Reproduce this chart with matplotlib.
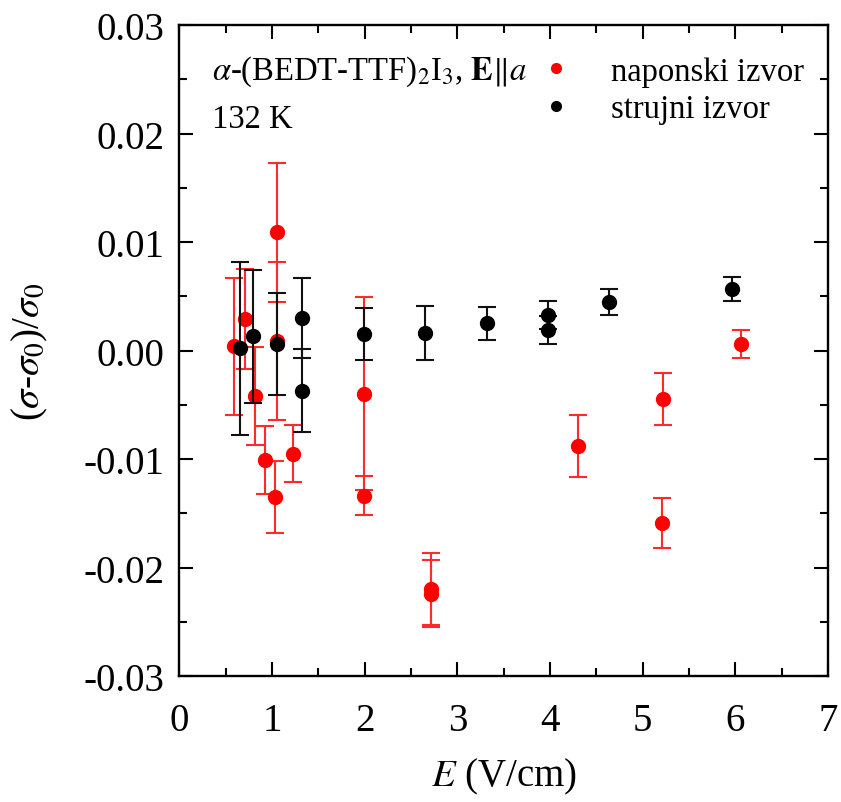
import matplotlib
matplotlib.use("Agg")
import matplotlib.pyplot as plt
from matplotlib.lines import Line2D
from matplotlib.ticker import MultipleLocator, FormatStrFormatter

# ---------- data ----------
red_x = [0.59, 0.71, 0.81, 0.92, 1.03, 1.05, 1.05, 1.23, 1.99, 1.99,
         2.71, 2.71, 4.30, 5.22, 5.21, 6.06]
red_y = [0.0004, 0.0029, -0.0042, -0.0101, -0.0135, 0.0109, 0.0009, -0.0095,
         -0.0040, -0.0134, -0.0220, -0.0224, -0.0088, -0.0045, -0.0159, 0.0006]
red_err = [0.0063, 0.0046, 0.0045, 0.0031, 0.0033, 0.0064, 0.0073, 0.0026,
           0.0089, 0.0018, 0.0033, 0.0031, 0.0029, 0.0024, 0.0023, 0.0013]

black_x = [0.655, 0.79, 1.05, 1.32, 1.32, 1.99, 2.655, 3.32, 3.98, 3.98, 4.64, 5.96]
black_y = [0.0002, 0.0013, 0.0006, 0.0030, -0.0037, 0.0015, 0.0016, 0.0025,
           0.0033, 0.0019, 0.0045, 0.0057]
black_err = [0.0080, 0.0061, 0.0047, 0.0037, 0.0038, 0.0024, 0.0025, 0.0015,
             0.0013, 0.0013, 0.0012, 0.0011]

labels = ["naponski izvor", "strujni izvor"]

plt.rcParams["font.family"] = ["Liberation Serif", "DejaVu Serif"]
plt.rcParams["mathtext.fontset"] = "stix"
plt.rcParams["axes.unicode_minus"] = False

fig = plt.figure(figsize=(8.41, 8.03), dpi=100)
ax = fig.add_axes([0.2134, 0.1569, 0.7711, 0.8107])

ax.errorbar(red_x, red_y, yerr=red_err, fmt="o", color="red", ecolor="#ff2a2a",
            markersize=10, elinewidth=1.5, capsize=6.5, capthick=1.5, zorder=2)
ax.errorbar(black_x, black_y, yerr=black_err, fmt="o", color="black", ecolor="#111111",
            markersize=10, elinewidth=1.5, capsize=6.5, capthick=1.5, zorder=3)

ax.set_xlim(0, 7)
ax.set_ylim(-0.03, 0.03)
ax.xaxis.set_major_locator(MultipleLocator(1))
ax.xaxis.set_minor_locator(MultipleLocator(0.5))
ax.yaxis.set_major_locator(MultipleLocator(0.01))
ax.yaxis.set_minor_locator(MultipleLocator(0.005))
ax.yaxis.set_major_formatter(FormatStrFormatter("%.2f"))

ax.tick_params(which="both", direction="in", top=True, right=True, width=1.5)
ax.tick_params(which="major", length=10, labelsize=28)
ax.tick_params(which="minor", length=6)
ax.tick_params(axis="x", which="major", pad=19)
ax.tick_params(axis="y", which="major", pad=11)
for sp in ax.spines.values():
    sp.set_linewidth(1.7)

ax.set_xlabel(r"$E$ (V/cm)", fontsize=28, labelpad=12)
ax.set_ylabel(r"($\sigma$-$\sigma_0$)/$\sigma_0$", fontsize=28, labelpad=24)

ax.text(0.050, 0.917, r"$\alpha$-(BEDT-TTF)$_2$I$_3$, $\mathbf{E}\Vert a$",
        transform=ax.transAxes, fontsize=23.5, va="baseline", ha="left")
ax.text(0.050, 0.843, "132 K", transform=ax.transAxes, fontsize=23.5,
        va="baseline", ha="left")

handles = [Line2D([], [], marker="o", linestyle="none", color="red", markersize=7),
           Line2D([], [], marker="o", linestyle="none", color="black", markersize=7)]
ax.legend(handles, labels, loc="upper left", bbox_to_anchor=(0.555, 0.952),
          frameon=False, fontsize=23.5, handlelength=1.0, handletextpad=1.2,
          labelspacing=0.22, borderpad=0, borderaxespad=0)

fig.savefig("out.png", dpi=100)
